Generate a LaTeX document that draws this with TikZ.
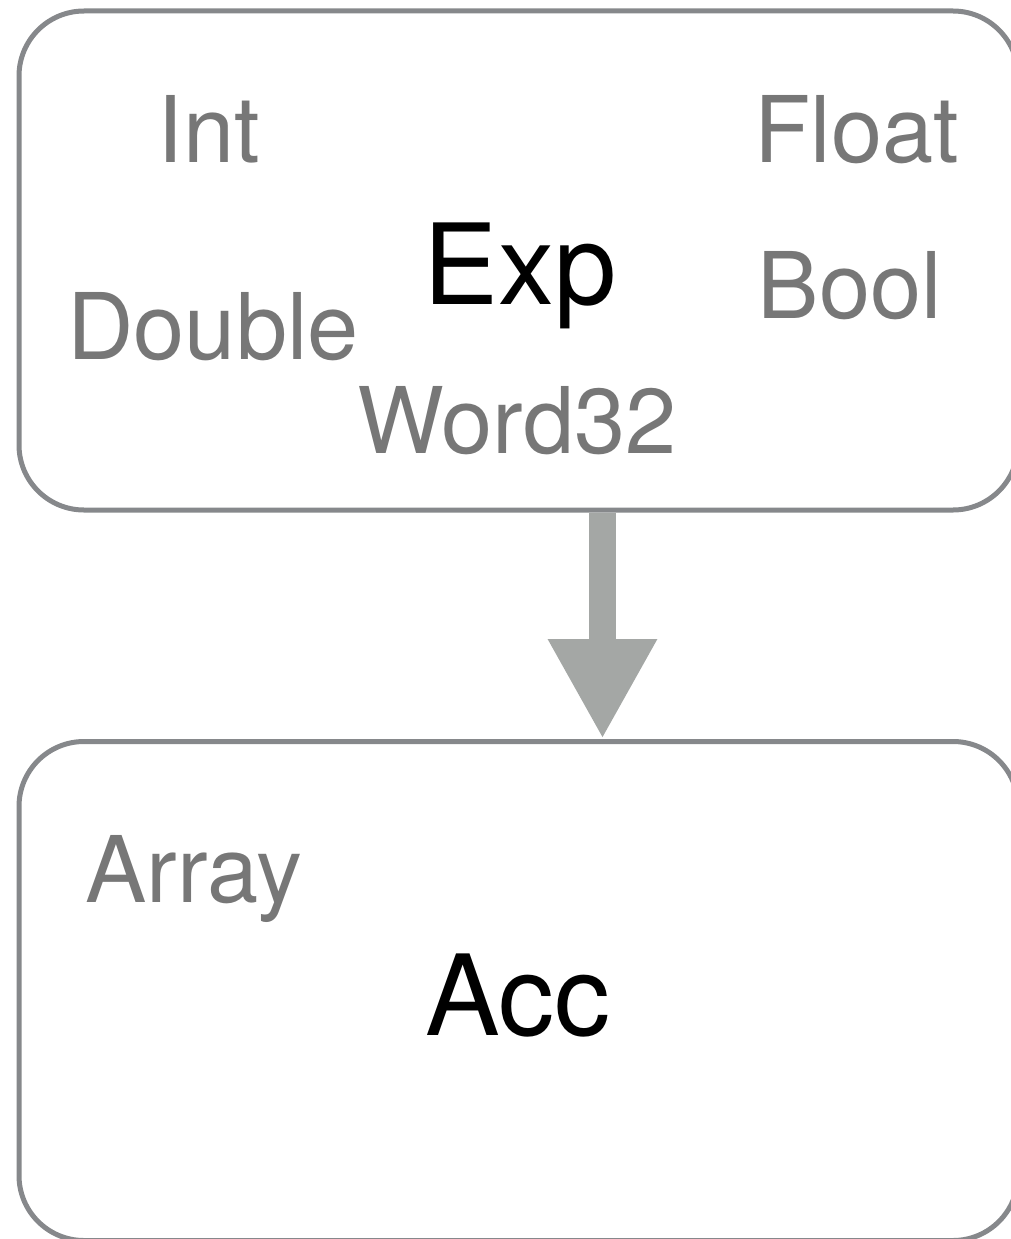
\documentclass[tikz,border=0pt]{standalone}
\usepackage{fontspec}
\setmainfont{TeX Gyre Heros}
\usetikzlibrary{arrows.meta}

\definecolor{boxgray}{HTML}{86888B}
\definecolor{arrowgray}{HTML}{A4A7A5}
\definecolor{typegray}{HTML}{777777}

\tikzset{
  typebox/.style={draw=boxgray, line width=5pt, rounded corners=65pt,
    minimum width=999pt, minimum height=499pt, inner sep=0pt},
  typename/.style={anchor=base, text=typegray, inner sep=0pt,
    font=\fontsize{92}{92}\selectfont},
  mainname/.style={anchor=base, text=black, inner sep=0pt,
    font=\fontsize{112}{112}\selectfont}
}

\begin{document}
\begin{tikzpicture}[x=1pt,y=-1pt]
  \useasboundingbox (0,0) rectangle (1011,1239);

  \node [typebox] (expbox) at (518.5,260.5) {};
  \node [typebox] (accbox) at (518.5,991) {};

  \node [typename] (int) at (209,162) {Int};
  \node [typename] (float) at (857,162) {Float};
  \node [mainname] (exp) at (520,304) {Exp};
  \node [typename] (bool) at (850,318) {Bool};
  \node [typename] (double) at (213,359) {Double};
  \node [typename] (word) at (517,453) {Word32};

  \node [typename] (array) at (194,902) {Array};
  \node [mainname] (acc) at (518,1035) {Acc};

  % lowering arrow
  \coordinate (from) at (expbox.south -| 602.5,0);
  \coordinate (to) at (accbox.north -| 602.5,0);
  \draw[arrowgray, line width=27pt, -{Triangle[length=100pt,width=102pt]}]
    (from) -- (to);

\end{tikzpicture}
\end{document}
